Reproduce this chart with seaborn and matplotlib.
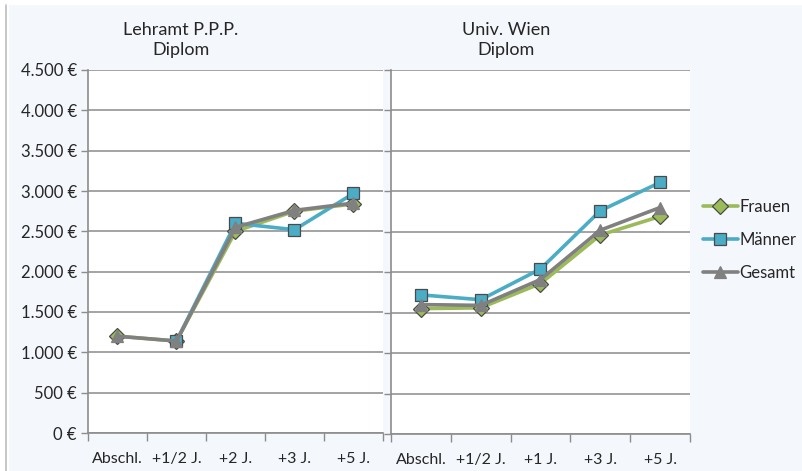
import numpy as np
import pandas as pd
import matplotlib
matplotlib.use("Agg")
import matplotlib.pyplot as plt
from matplotlib.lines import Line2D
from matplotlib.patches import Rectangle
from matplotlib.ticker import FuncFormatter
import seaborn as sns

sns.set_style("white")
plt.rcParams['font.family'] = ['Lato', 'DejaVu Sans']

# ---- data ----
left_title = "Lehramt P.P.P.\nDiplom"
right_title = "Univ. Wien\nDiplom"
left_cats = ["Abschl.", "+1/2 J.", "+2 J.", "+3 J.", "+5 J."]
right_cats = ["Abschl.", "+1/2 J.", "+1 J.", "+3 J.", "+5 J."]
series = ["Frauen", "Männer", "Gesamt"]

left_frauen = [1200, 1140, 2500, 2750, 2840]
left_maenner = [np.nan, 1140, 2600, 2520, 2970]
left_gesamt = [1200, 1140, 2550, 2760, 2850]

right_frauen = [1550, 1560, 1860, 2460, 2690]
right_maenner = [1720, 1660, 2040, 2760, 3110]
right_gesamt = [1600, 1590, 1910, 2520, 2800]

yticks = [0, 500, 1000, 1500, 2000, 2500, 3000, 3500, 4000, 4500]

# ---- styles ----
colors = {"Frauen": "#9BBB59", "Männer": "#4BACC6", "Gesamt": "#808080"}
markers = {"Frauen": "D", "Männer": "s", "Gesamt": "^"}
msizes = {"Frauen": 8, "Männer": 9, "Gesamt": 8}
bg = "#F4F7FC"
gridc = "#A3A3A3"
spinec = "#8C8C8C"

fig = plt.figure(figsize=(8.03, 4.71), dpi=100, facecolor=bg)
W, H = 803, 471

# outer white strips and border line (screenshot edge)
fig.patches.append(Rectangle((0, 1 - 5 / H), 1, 5 / H, transform=fig.transFigure,
                             facecolor="white", edgecolor="none", zorder=0))
fig.patches.append(Rectangle((0, 0), 9 / W, 1, transform=fig.transFigure,
                             facecolor="white", edgecolor="none", zorder=0))
fig.add_artist(Line2D([6.5 / W, 6.5 / W], [0, 1 - 5 / H], transform=fig.transFigure,
                      color="#BDBDBD", lw=1.2))

axL = fig.add_axes([88 / W, 1 - 433 / H, 295 / W, 363 / H])
axR = fig.add_axes([391 / W, 1 - 434 / H, 299 / W, 364 / H])

def fmt(v, pos):
    return f"{int(v):,}".replace(",", ".") + " €"

panels = [
    (axL, left_cats, [left_frauen, left_maenner, left_gesamt], left_title, 0.315, True),
    (axR, right_cats, [right_frauen, right_maenner, right_gesamt], right_title, 0.385, False),
]

for ax, cats, vals, title, tx, showy in panels:
    ax.set_facecolor("white")
    x = np.arange(len(cats))
    for name, v in zip(series, vals):
        df = pd.DataFrame({"x": x, "y": v}).dropna()
        sns.lineplot(data=df, x="x", y="y", ax=ax, color=colors[name], lw=2.6,
                     marker=markers[name], markersize=msizes[name],
                     markeredgecolor="#4A4A4A" if name != "Gesamt" else colors[name],
                     markeredgewidth=0.9, zorder=3 if name != "Gesamt" else 4,
                     legend=False)
    ax.set_xlim(-0.5, len(cats) - 0.5)
    ax.set_ylim(0, 4500)
    ax.set_yticks(yticks)
    ax.yaxis.set_major_formatter(FuncFormatter(fmt))
    ax.grid(axis="y", color=gridc, lw=1.4, zorder=0)
    ax.set_axisbelow(True)
    ax.set_xticks(np.arange(len(cats) + 1) - 0.5)
    ax.set_xticklabels([])
    ax.set_xticks(x, minor=True)
    ax.set_xticklabels(cats, minor=True, fontsize=11.5)
    ax.tick_params(axis="x", which="major", length=6, width=1, color=spinec, direction="out", bottom=True)
    ax.tick_params(axis="x", which="minor", length=0, pad=14)
    ax.tick_params(axis="y", length=5, width=1, color=spinec, direction="out", left=True,
                   labelsize=12, pad=3, labelleft=showy)
    for s in ["top", "right"]:
        ax.spines[s].set_visible(False)
    for s in ["left", "bottom"]:
        ax.spines[s].set_color(spinec)
        ax.spines[s].set_linewidth(1.2)
    ax.set_xlabel("")
    ax.set_ylabel("")
    ax.set_title(title, x=tx, y=1.0, pad=11, fontsize=13, linespacing=1.3)

handles = [Line2D([0], [0], color=colors[n], lw=2.6, marker=markers[n],
                  markersize=msizes[n],
                  markeredgecolor="#4A4A4A" if n != "Gesamt" else colors[n],
                  markeredgewidth=0.9) for n in series]
fig.legend(handles, series, loc="center left", bbox_to_anchor=(688 / W, 1 - 240 / H),
           frameon=False, fontsize=12, handlelength=2.1, handletextpad=0.1,
           labelspacing=1.0)

fig.savefig("out.png", dpi=100, facecolor=bg)
